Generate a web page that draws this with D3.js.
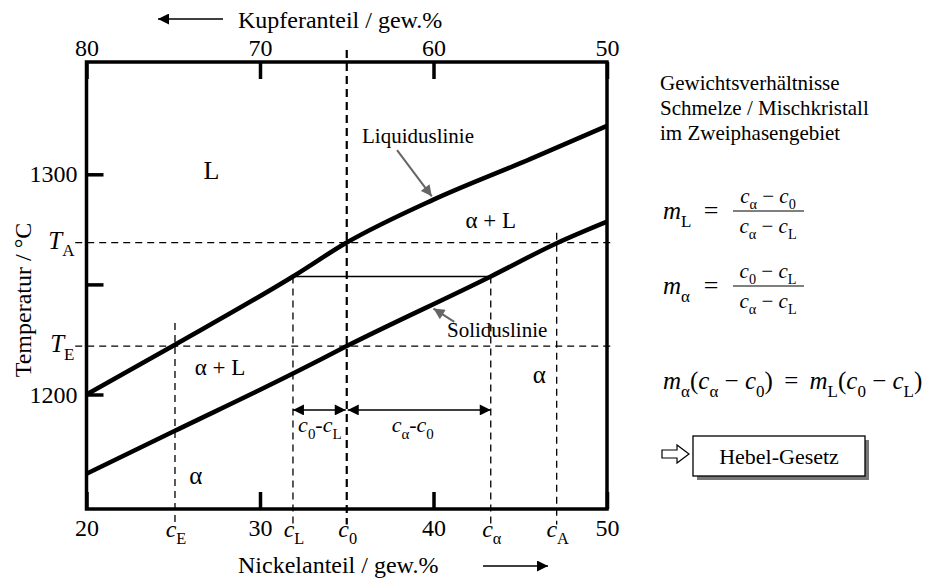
<!DOCTYPE html>
<html>
<head>
<meta charset="utf-8">
<script src="https://cdn.jsdelivr.net/npm/d3@7"></script>
<style>
  body { margin: 0; background: #fff; }
  svg { display: block; font-family: "Liberation Serif", "DejaVu Serif", serif; }
  .axis path { display: none; }
  .axis line { stroke: #000; stroke-width: 3.5; }
  .axis text { font-family: "Liberation Serif", serif; font-size: 24px; fill: #000; }
</style>
</head>
<body>
<svg id="chart" width="941" height="580"></svg>
<script>
// tick values
const niTicks = [20, 30, 40, 50];
const cuTicks = [80, 70, 60, 50];
const tTicks = [1200, 1250, 1300];

// liquidus / solidus (Ni gew.%, temperature)
const liqNi = [20, 25.1, 31.9, 35, 40, 45.6, 50];
const liqT = [1200, 1222.6, 1253.6, 1269, 1288.5, 1307, 1322];
const solNi = [20, 25.1, 31.9, 35, 43.3, 47.1, 50];
const solT = [1164, 1183.5, 1209.5, 1222, 1253.6, 1268.7, 1278.5];

// marked concentrations and temperatures
const concNames = ['E', 'L', '0', 'α', 'A'];
const concNi = [25.1, 31.9, 35, 43.3, 47.1];
const concTop = [1232.5, 1253.6, 1356.5, 1253.6, 1273.5];
const tempNames = ['A', 'E'];
const tempT = [1269, 1222];
const tieT = 1253.6;
const dimT = 1193;

const margin = { top: 62, left: 86.5, right: 334, bottom: 71 };
const W = 941, H = 580;

const x = d3.scaleLinear().domain([20, 50]).range([margin.left, W - margin.right]);
const xCu = d3.scaleLinear().domain([80, 50]).range([margin.left, W - margin.right]);
const y = d3.scaleLinear().domain([1148, 1351]).range([H - margin.bottom, margin.top]);

const svg = d3.select('#chart');

const defs = svg.append('defs');
function marker(id, color, w, h, flip) {
  defs.append('marker')
      .attr('id', id)
      .attr('viewBox', '0 0 10 10')
      .attr('refX', flip ? 0 : 10).attr('refY', 5)
      .attr('markerUnits', 'userSpaceOnUse')
      .attr('markerWidth', w).attr('markerHeight', h)
      .attr('orient', 'auto')
    .append('path')
      .attr('d', flip ? 'M10,0L0,5L10,10Z' : 'M0,0L10,5L0,10Z')
      .attr('fill', color);
}
marker('headEnd', '#000', 13, 11, false);
marker('headStart', '#000', 13, 11, true);
marker('greyHead', '#666', 13, 11, false);

// helper for text with italic parts and subscripts
function rich(g, px, py, parts, size, anchor) {
  let t = g.append('text')
      .attr('x', px).attr('y', py)
      .attr('font-size', size)
      .attr('text-anchor', anchor || 'start');
  let shift = 0;
  parts.forEach(p => {
    let s;
    if (typeof p === 'string') { s = t.append('tspan').text(p); }
    else if (p.i) { s = t.append('tspan').attr('font-style', 'italic').text(p.i); }
    else if (p.s) {
      s = t.append('tspan').attr('font-size', size * 0.68).text(p.s);
      s.attr('dy', size * 0.3 - shift);
      shift = size * 0.3;
      return;
    }
    if (shift) { s.attr('dy', -shift); shift = 0; }
  });
  return t;
}

// dashed guide lines
const dashG = svg.append('g').attr('stroke', '#000').attr('fill', 'none');
tempT.forEach(t => {
  dashG.append('line')
      .attr('x1', x(19.35)).attr('x2', x(50.2))
      .attr('y1', y(t)).attr('y2', y(t))
      .attr('stroke-width', 1.3).attr('stroke-dasharray', '7,5');
});
concNi.forEach((c, i) => {
  dashG.append('line')
      .attr('x1', x(c)).attr('x2', x(c))
      .attr('y1', y(concTop[i])).attr('y2', y(1141))
      .attr('stroke-width', concNames[i] === '0' ? 2.2 : 1.3)
      .attr('stroke-dasharray', concNames[i] === '0' ? '8,5' : '7,5');
});

// tie line
svg.append('line')
    .attr('x1', x(concNi[1])).attr('x2', x(concNi[3]))
    .attr('y1', y(tieT)).attr('y2', y(tieT))
    .attr('stroke', '#000').attr('stroke-width', 1.5);

// phase boundaries
const line = d3.line().x(d => x(d[0])).y(d => y(d[1])).curve(d3.curveMonotoneX);
svg.append('path')
    .datum(liqNi.map((n, i) => [n, liqT[i]]))
    .attr('d', line).attr('fill', 'none').attr('stroke', '#000').attr('stroke-width', 4.5);
svg.append('path')
    .datum(solNi.map((n, i) => [n, solT[i]]))
    .attr('d', line).attr('fill', 'none').attr('stroke', '#000').attr('stroke-width', 4.5);

// dimension arrows
svg.append('line')
    .attr('x1', x(concNi[1])).attr('x2', x(concNi[2]) - 1)
    .attr('y1', y(dimT)).attr('y2', y(dimT))
    .attr('stroke', '#000').attr('stroke-width', 1.5)
    .attr('marker-start', 'url(#headStart)').attr('marker-end', 'url(#headEnd)');
svg.append('line')
    .attr('x1', x(concNi[2]) + 1).attr('x2', x(concNi[3]))
    .attr('y1', y(dimT)).attr('y2', y(dimT))
    .attr('stroke', '#000').attr('stroke-width', 1.5)
    .attr('marker-start', 'url(#headStart)').attr('marker-end', 'url(#headEnd)');
rich(svg, (x(concNi[1]) + x(concNi[2])) / 2, y(dimT) + 22, [{ i: 'c' }, { s: '0' }, '-', { i: 'c' }, { s: 'L' }], 22, 'middle');
rich(svg, (x(concNi[2]) + x(concNi[3])) / 2 - 6, y(dimT) + 22, [{ i: 'c' }, { s: 'α' }, '-', { i: 'c' }, { s: '0' }], 22, 'middle');

// frame
svg.append('rect')
    .attr('x', x(20)).attr('y', y(1351))
    .attr('width', x(50) - x(20)).attr('height', y(1148) - y(1351))
    .attr('fill', 'none').attr('stroke', '#000').attr('stroke-width', 3.5);

// axes, ticks pointing inwards
svg.append('g').attr('class', 'axis')
    .attr('transform', 'translate(0,' + y(1148) + ')')
    .call(d3.axisBottom(x).tickValues(niTicks).tickSizeInner(-17).tickSizeOuter(0).tickPadding(10));
svg.append('g').attr('class', 'axis')
    .attr('transform', 'translate(0,' + y(1351) + ')')
    .call(d3.axisTop(xCu).tickValues(cuTicks).tickSizeInner(-17).tickSizeOuter(0).tickPadding(6));
svg.append('g').attr('class', 'axis')
    .attr('transform', 'translate(' + x(20) + ',0)')
    .call(d3.axisLeft(y).tickValues(tTicks).tickFormat(d => d === 1250 ? '' : d)
          .tickSizeInner(-17).tickSizeOuter(0).tickPadding(9));

// T_A / T_E labels
tempT.forEach((t, i) => {
  rich(svg, x(20) - 12, y(t) + 6, [{ i: 'T' }, { s: tempNames[i] }], 25, 'end');
});

// c labels under the axis
concNi.forEach((c, i) => {
  rich(svg, x(c) + 1, 537, [{ i: 'c' }, { s: concNames[i] }], 24, 'middle');
});

// axis titles
const titles = svg.append('g').attr('font-size', 24);
titles.append('text').attr('x', 238).attr('y', 28).text('Kupferanteil / gew.%');
titles.append('text').attr('x', 238).attr('y', 573).text('Nickelanteil / gew.%');
titles.append('text')
    .attr('transform', 'translate(31,' + 300 + ') rotate(-90)')
    .attr('text-anchor', 'middle')
    .text('Temperatur / °C');
svg.append('line').attr('x1', 223).attr('x2', 158).attr('y1', 19).attr('y2', 19)
    .attr('stroke', '#000').attr('stroke-width', 1.5).attr('marker-end', 'url(#headEnd)');
svg.append('line').attr('x1', 483).attr('x2', 548).attr('y1', 566).attr('y2', 566)
    .attr('stroke', '#000').attr('stroke-width', 1.5).attr('marker-end', 'url(#headEnd)');

// region labels
svg.append('text').attr('x', x(27.2)).attr('y', y(1298)).attr('text-anchor', 'middle').attr('font-size', 26).text('L');
svg.append('text').attr('x', x(43.3)).attr('y', y(1275.6)).attr('text-anchor', 'middle').attr('font-size', 23).text('α + L');
svg.append('text').attr('x', x(27.7)).attr('y', y(1208.8)).attr('text-anchor', 'middle').attr('font-size', 23).text('α + L');
svg.append('text').attr('x', x(46.1)).attr('y', y(1205.4)).attr('text-anchor', 'middle').attr('font-size', 25).text('α');
svg.append('text').attr('x', x(26.3)).attr('y', y(1159.4)).attr('text-anchor', 'middle').attr('font-size', 25).text('α');

// curve annotations
svg.append('text').attr('x', 362).attr('y', 143).attr('font-size', 21).text('Liquiduslinie');
svg.append('line')
    .attr('x1', x(37.9)).attr('y1', y(1311)).attr('x2', x(39.9)).attr('y2', y(1290))
    .attr('stroke', '#666').attr('stroke-width', 2).attr('marker-end', 'url(#greyHead)');
svg.append('text').attr('x', 447).attr('y', 337).attr('font-size', 21).text('Soliduslinie');
svg.append('line')
    .attr('x1', x(41.2)).attr('y1', y(1233)).attr('x2', x(40.0)).attr('y2', y(1239))
    .attr('stroke', '#666').attr('stroke-width', 2).attr('marker-end', 'url(#greyHead)');

// right-hand panel
const side = svg.append('g');
['Gewichtsverhältnisse', 'Schmelze / Mischkristall', 'im Zweiphasengebiet'].forEach((s, i) => {
  side.append('text').attr('x', 660).attr('y', 90 + i * 25).attr('font-size', 21).text(s);
});

function fraction(cy, lhsSub, num, den) {
  rich(side, 663, cy + 8, [{ i: 'm' }, { s: lhsSub }], 25);
  side.append('text').attr('x', 711).attr('y', cy + 8).attr('text-anchor', 'middle').attr('font-size', 26).text('=');
  side.append('line').attr('x1', 733).attr('x2', 804).attr('y1', cy).attr('y2', cy)
      .attr('stroke', '#000').attr('stroke-width', 1.2);
  rich(side, 768, cy - 8, num, 21, 'middle');
  rich(side, 768, cy + 22, den, 21, 'middle');
}
fraction(211, 'L',
  [{ i: 'c' }, { s: 'α' }, ' − ', { i: 'c' }, { s: '0' }],
  [{ i: 'c' }, { s: 'α' }, ' − ', { i: 'c' }, { s: 'L' }]);
fraction(286, 'α',
  [{ i: 'c' }, { s: '0' }, ' − ', { i: 'c' }, { s: 'L' }],
  [{ i: 'c' }, { s: 'α' }, ' − ', { i: 'c' }, { s: 'L' }]);

rich(side, 663, 389, [{ i: 'm' }, { s: 'α' }, '(', { i: 'c' }, { s: 'α' }, ' − ', { i: 'c' }, { s: '0' }, ') \u2009=\u2009 ',
  { i: 'm' }, { s: 'L' }, '(', { i: 'c' }, { s: '0' }, ' − ', { i: 'c' }, { s: 'L' }, ')'], 25);

// hollow arrow and boxed conclusion
side.append('path')
    .attr('d', 'M662,450L677,450L677,445L689,454L677,463L677,458L662,458Z')
    .attr('fill', '#fff').attr('stroke', '#000').attr('stroke-width', 1.2);
side.append('rect').attr('x', 697).attr('y', 440).attr('width', 172).attr('height', 40).attr('fill', '#777');
side.append('rect').attr('x', 693).attr('y', 436).attr('width', 172).attr('height', 40)
    .attr('fill', '#fff').attr('stroke', '#000').attr('stroke-width', 1.3);
side.append('text').attr('x', 779).attr('y', 464).attr('text-anchor', 'middle').attr('font-size', 22).text('Hebel-Gesetz');
</script>
</body>
</html>
